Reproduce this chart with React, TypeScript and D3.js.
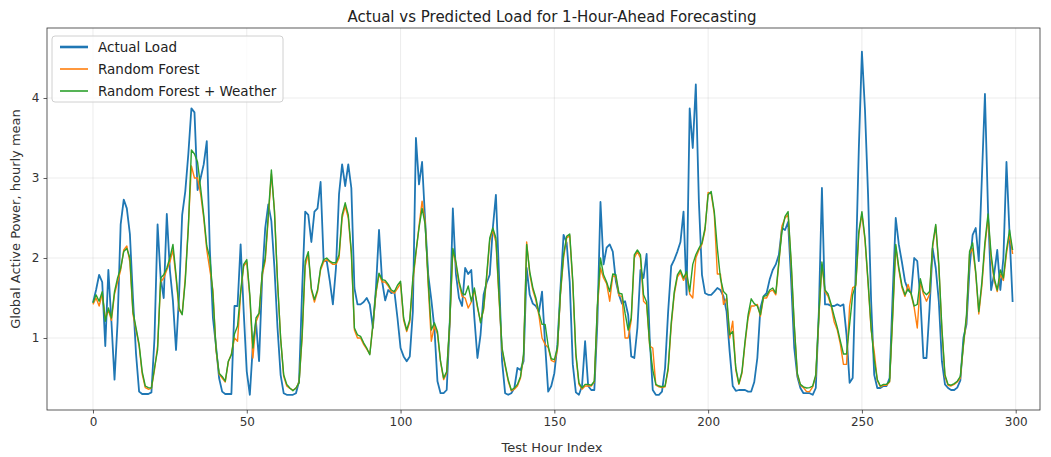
import React, { useEffect, useRef } from 'react'
import * as d3 from 'd3'

// hourly mean load, test hours 0..299
const actualLoad = [
  1.44, 1.6, 1.79, 1.7, 0.9, 1.85, 1.2, 0.48, 1.2, 2.42,
  2.73, 2.62, 2.3, 1.5, 0.8, 0.33, 0.3, 0.3, 0.3, 0.32,
  1.0, 2.42, 1.75, 1.5, 2.55, 1.85, 1.46, 0.85, 1.54, 2.54,
  2.83, 3.3, 3.87, 3.82, 2.85, 3.0, 3.17, 3.46, 2.1, 1.25,
  0.9, 0.5, 0.33, 0.3, 0.3, 0.3, 1.4, 1.4, 2.17, 1.33,
  0.58, 0.29, 0.92, 1.2, 0.71, 1.75, 2.375, 2.67, 2.46, 1.875,
  1.125, 0.54, 0.31, 0.29, 0.29, 0.29, 0.31, 0.46, 1.6, 2.58,
  2.54, 2.2, 2.58, 2.62, 2.95, 1.96, 1.96, 1.71, 1.42, 1.875,
  2.8, 3.17, 2.9, 3.17, 2.875, 1.625, 1.42, 1.42, 1.45, 1.5,
  1.42, 1.125, 1.625, 2.35, 1.71, 1.47, 1.6, 1.56, 1.58, 1.25,
  0.875, 0.77, 0.71, 0.77, 1.33, 3.5, 2.92, 3.2, 2.46, 1.79,
  1.48, 1.125, 0.46, 0.31, 0.31, 0.35, 1.2, 2.62, 1.8, 1.5,
  1.4, 1.875, 1.8, 1.85, 1.25, 0.75, 1.04, 1.54, 1.69, 1.79,
  2.375, 2.79, 1.8, 0.71, 0.31, 0.29, 0.31, 0.375, 0.625, 0.6,
  0.71, 1.875, 1.54, 1.43, 1.4, 1.33, 1.58, 0.92, 0.33, 0.4,
  0.56, 0.92, 1.625, 2.29, 2.19, 1.7, 0.67, 0.32, 0.29, 0.4,
  0.96, 0.4, 0.35, 0.35, 1.2, 2.7, 1.92, 2.13, 2.17, 2.08,
  1.71, 1.54, 1.43, 1.46, 1.29, 0.77, 0.75, 1.125, 1.85, 1.75,
  2.05, 1.0, 0.35, 0.29, 0.29, 0.33, 0.625, 1.33, 1.9, 1.98,
  2.08, 2.2, 2.58, 1.54, 3.87, 3.375, 4.17, 2.7, 1.79, 1.56,
  1.54, 1.54, 1.58, 1.625, 1.6, 1.52, 1.33, 0.83, 0.4, 0.34,
  0.35, 0.35, 0.35, 0.33, 0.33, 0.45, 0.75, 1.375, 1.52, 1.56,
  1.73, 1.85, 1.92, 2.04, 2.375, 2.35, 2.45, 1.71, 0.875, 0.52,
  0.375, 0.31, 0.31, 0.31, 0.29, 0.375, 1.33, 2.875, 1.42, 1.42,
  1.4, 1.4, 1.42, 1.4, 1.42, 1.04, 0.44, 0.5, 1.875, 3.375,
  4.58, 3.85, 2.79, 1.46, 0.54, 0.375, 0.375, 0.4, 0.4, 0.5,
  1.54, 2.5, 2.17, 1.95, 1.71, 1.6, 1.56, 2.0, 1.96, 1.5,
  0.75, 0.75, 1.375, 2.12, 1.875, 1.46, 0.71, 0.42, 0.375, 0.35,
  0.35, 0.38, 0.47, 1.0, 1.17, 1.875, 2.29, 2.375, 1.96, 3.0,
  4.05, 2.6, 1.6, 1.8, 2.1, 1.6, 2.0, 3.2, 2.3, 1.45
]

const randomForest = [
  1.42, 1.5, 1.4, 1.55, 1.25, 1.35, 1.22, 1.55, 1.7, 1.85,
  2.1, 2.15, 1.95, 1.3, 1.1, 0.9, 0.55, 0.38, 0.36, 0.37,
  0.6, 0.9, 1.7, 1.75, 1.85, 1.95, 2.1, 1.75, 1.35, 1.3,
  1.75, 2.4, 3.15, 3.0, 3.0, 2.8, 2.5, 2.1, 1.85, 1.6,
  0.85, 0.55, 0.5, 0.45, 0.7, 0.8, 1.0, 0.96, 1.55, 1.9,
  1.95, 1.5, 0.75, 1.2, 1.3, 1.78, 1.96, 2.5, 3.05, 2.6,
  1.7, 1.0, 0.52, 0.4, 0.37, 0.35, 0.37, 0.45, 1.0, 1.9,
  2.05, 1.6, 1.45, 1.58, 1.85, 1.95, 1.98, 1.95, 1.92, 1.92,
  2.0, 2.5, 2.65, 2.5, 2.05, 1.1, 1.0, 1.0, 0.92, 0.86,
  0.8, 1.15, 1.55, 1.8, 1.7, 1.7, 1.65, 1.58, 1.56, 1.62,
  1.68, 1.22, 1.08, 1.2, 1.7, 2.05, 2.4, 2.71, 2.45, 1.65,
  0.96, 1.15, 1.05, 0.7, 0.48, 0.56, 1.18, 2.1, 1.92, 1.68,
  1.52, 1.5, 1.375, 1.45, 1.6, 1.38, 1.21, 1.35, 1.75, 2.22,
  2.35, 2.2, 1.5, 0.85, 0.65, 0.46, 0.34, 0.36, 0.4, 0.5,
  0.78, 2.2, 1.8, 1.6, 1.47, 1.28, 1.0, 0.92, 0.88, 0.72,
  0.7, 0.85, 1.55, 2.0, 2.25, 2.28, 1.68, 0.78, 0.42, 0.36,
  0.4, 0.4, 0.4, 0.45, 1.38, 1.875, 1.75, 1.68, 1.46, 1.78,
  1.76, 1.53, 1.52, 1.0, 1.0, 1.22, 2.0, 2.08, 2.0, 1.46,
  1.42, 0.9, 0.875, 0.41, 0.39, 0.38, 0.39, 0.6, 1.15, 1.55,
  1.76, 1.82, 1.72, 1.8, 1.55, 1.5, 2.0, 2.1, 2.17, 2.35,
  2.82, 2.8, 2.55, 1.8, 1.8, 1.42, 1.5, 1.0, 1.21, 0.6,
  0.42, 0.56, 0.93, 1.25, 1.4, 1.4, 1.42, 1.27, 1.5, 1.5,
  1.58, 1.6, 1.54, 1.93, 2.4, 2.5, 2.54, 1.92, 1.15, 0.54,
  0.41, 0.38, 0.33, 0.33, 0.39, 0.52, 1.25, 1.92, 1.58, 1.52,
  1.4, 1.2, 1.1, 0.92, 0.67, 0.67, 1.4, 1.63, 1.65, 2.3,
  2.55, 2.22, 1.68, 1.1, 0.83, 0.47, 0.39, 0.41, 0.41, 0.45,
  1.25, 2.14, 1.85, 1.63, 1.52, 1.67, 1.54, 1.38, 1.125, 1.7,
  1.55, 1.46, 1.55, 2.14, 2.4, 1.9, 1.1, 0.52, 0.41, 0.4,
  0.42, 0.45, 0.5, 0.9, 1.25, 2.05, 2.12, 1.8, 1.3, 1.65,
  2.15, 2.5, 2.0, 1.72, 1.58, 1.8, 1.72, 2.05, 2.3, 2.05
]

const randomForestWeather = [
  1.44, 1.54, 1.46, 1.58, 1.21, 1.375, 1.25, 1.58, 1.75, 1.875,
  2.08, 2.12, 2.0, 1.33, 1.125, 0.92, 0.58, 0.4, 0.38, 0.375,
  0.625, 0.85, 1.75, 1.79, 1.875, 2.0, 2.17, 1.79, 1.375, 1.29,
  1.71, 2.375, 3.35, 3.3, 3.2, 2.875, 2.54, 2.15, 2.0, 1.54,
  0.875, 0.56, 0.52, 0.46, 0.71, 0.79, 1.05, 1.15, 1.58, 1.92,
  1.98, 1.54, 0.875, 1.25, 1.31, 1.81, 2.0, 2.54, 3.1, 2.58,
  1.71, 1.0, 0.54, 0.42, 0.375, 0.34, 0.375, 0.44, 1.04, 1.96,
  2.08, 1.62, 1.48, 1.6, 1.875, 1.98, 2.0, 1.96, 1.94, 1.94,
  2.04, 2.54, 2.69, 2.54, 2.08, 1.125, 1.04, 1.02, 0.94, 0.875,
  0.79, 1.17, 1.58, 1.81, 1.73, 1.72, 1.67, 1.6, 1.58, 1.66,
  1.71, 1.25, 1.1, 1.23, 1.75, 2.08, 2.375, 2.62, 2.42, 1.71,
  1.1, 1.19, 1.08, 0.71, 0.5, 0.58, 1.21, 2.12, 1.95, 1.71,
  1.56, 1.54, 1.65, 1.46, 1.625, 1.4, 1.19, 1.375, 1.79, 2.25,
  2.375, 2.25, 1.54, 0.875, 0.67, 0.48, 0.35, 0.375, 0.42, 0.52,
  0.8, 2.17, 1.83, 1.63, 1.5, 1.31, 1.17, 1.17, 0.9, 0.74,
  0.73, 0.875, 1.58, 2.04, 2.27, 2.3, 1.71, 0.81, 0.44, 0.375,
  0.42, 0.42, 0.41, 0.46, 1.42, 2.0, 1.79, 1.7, 1.58, 1.8,
  1.79, 1.56, 1.55, 1.31, 1.1, 1.25, 2.04, 2.1, 2.04, 1.54,
  1.45, 0.92, 0.6, 0.42, 0.4, 0.39, 0.4, 0.625, 1.19, 1.58,
  1.79, 1.85, 1.75, 1.83, 1.58, 1.92, 2.04, 2.12, 2.19, 2.375,
  2.79, 2.83, 2.58, 2.12, 1.75, 1.58, 1.54, 1.04, 1.08, 0.625,
  0.43, 0.58, 0.96, 1.29, 1.49, 1.43, 1.4, 1.29, 1.52, 1.53,
  1.6, 1.625, 1.56, 1.96, 2.33, 2.52, 2.58, 1.96, 1.17, 0.56,
  0.42, 0.39, 0.375, 0.38, 0.4, 0.54, 1.29, 1.95, 1.6, 1.55,
  1.42, 1.27, 1.13, 0.96, 0.8, 0.8, 1.17, 1.54, 1.67, 2.33,
  2.58, 2.25, 1.71, 1.125, 0.73, 0.48, 0.4, 0.42, 0.42, 0.46,
  1.29, 2.17, 1.88, 1.66, 1.54, 1.61, 1.56, 1.4, 1.42, 1.74,
  1.58, 1.54, 1.58, 2.17, 2.42, 1.92, 1.125, 0.54, 0.42, 0.41,
  0.43, 0.46, 0.52, 0.92, 1.29, 2.08, 2.19, 1.83, 1.33, 1.7,
  2.2, 2.55, 2.05, 1.75, 1.6, 1.85, 1.75, 2.1, 2.35, 2.1
]

const xTicks = [0, 50, 100, 150, 200, 250, 300]
const yTicks = [1, 2, 3, 4]
const seriesNames = ['Actual Load', 'Random Forest', 'Random Forest + Weather']
const seriesColors = ['#1f77b4', '#ff7f0e', '#2ca02c']

const W = 1051
const H = 457
const margin = { top: 28, right: 11, bottom: 47, left: 47 }
const font = '"DejaVu Sans", sans-serif'

export default function App() {
  const ref = useRef<SVGSVGElement>(null)

  useEffect(() => {
    const svg = d3.select(ref.current)
    svg.selectAll('*').remove()

    const x = d3.scaleLinear().domain([-14.95, 307.9]).range([margin.left, W - margin.right])
    const y = d3.scaleLinear().domain([0.1, 4.875]).range([H - margin.bottom, margin.top])

    svg.append('rect').attr('width', W).attr('height', H).attr('fill', '#fff')

    // grid
    const grid = svg.append('g')
    grid.selectAll('line.vx').data(xTicks).enter().append('line')
      .attr('x1', d => x(d)).attr('x2', d => x(d))
      .attr('y1', margin.top).attr('y2', H - margin.bottom)
      .attr('stroke', '#b0b0b0').attr('stroke-opacity', 0.3).attr('stroke-width', 0.8)
    grid.selectAll('line.hy').data(yTicks).enter().append('line')
      .attr('y1', d => y(d)).attr('y2', d => y(d))
      .attr('x1', margin.left).attr('x2', W - margin.right)
      .attr('stroke', '#b0b0b0').attr('stroke-opacity', 0.3).attr('stroke-width', 0.8)

    const clip = svg.append('clipPath').attr('id', 'plot-clip')
    clip.append('rect').attr('x', margin.left).attr('y', margin.top)
      .attr('width', W - margin.left - margin.right).attr('height', H - margin.top - margin.bottom)

    const lineGen = d3.line<number>().x((d, i) => x(i)).y(d => y(d))
    const all = [actualLoad, randomForest, randomForestWeather]
    const widths = [1.8, 1.4, 1.4]
    const g = svg.append('g').attr('clip-path', 'url(#plot-clip)')
    all.forEach((s, k) => {
      g.append('path').datum(s).attr('d', lineGen)
        .attr('fill', 'none').attr('stroke', seriesColors[k])
        .attr('stroke-width', widths[k]).attr('stroke-linejoin', 'round')
    })

    // axes
    const xAxis = svg.append('g')
      .attr('transform', 'translate(0,' + (H - margin.bottom) + ')')
      .call(d3.axisBottom(x).tickValues(xTicks).tickSize(3.5).tickPadding(3.5))
    const yAxis = svg.append('g')
      .attr('transform', 'translate(' + margin.left + ',0)')
      .call(d3.axisLeft(y).tickValues(yTicks).tickFormat(d3.format('d')).tickSize(3.5).tickPadding(4))
    ;[xAxis, yAxis].forEach(a => {
      a.select('.domain').remove()
      a.selectAll('line').attr('stroke', '#333').attr('stroke-width', 0.8)
      a.selectAll('text').attr('font-family', font).attr('font-size', 12).attr('fill', '#333')
    })

    svg.append('rect')
      .attr('x', margin.left).attr('y', margin.top)
      .attr('width', W - margin.left - margin.right).attr('height', H - margin.top - margin.bottom)
      .attr('fill', 'none').attr('stroke', '#333').attr('stroke-width', 0.8)

    const cx = 552
    svg.append('text').attr('x', cx).attr('y', 22).attr('text-anchor', 'middle')
      .attr('font-family', font).attr('font-size', 15).attr('fill', '#222')
      .text('Actual vs Predicted Load for 1-Hour-Ahead Forecasting')
    svg.append('text').attr('x', cx).attr('y', 452).attr('text-anchor', 'middle')
      .attr('font-family', font).attr('font-size', 13).attr('fill', '#333')
      .text('Test Hour Index')
    svg.append('text')
      .attr('transform', 'translate(20,' + (margin.top + H - margin.bottom) / 2 + ') rotate(-90)')
      .attr('text-anchor', 'middle')
      .attr('font-family', font).attr('font-size', 13).attr('fill', '#333')
      .text('Global Active Power, hourly mean')

    // legend
    const lg = svg.append('g').attr('transform', 'translate(52,36)')
    lg.append('rect').attr('width', 231).attr('height', 66).attr('rx', 3)
      .attr('fill', '#fff').attr('fill-opacity', 0.8).attr('stroke', '#d0d0d0')
    seriesNames.forEach((name, k) => {
      const yy = 11 + k * 22
      lg.append('line').attr('x1', 8).attr('x2', 36).attr('y1', yy).attr('y2', yy)
        .attr('stroke', seriesColors[k]).attr('stroke-width', k === 0 ? 2.6 : 1.6)
      lg.append('text').attr('x', 46).attr('y', yy + 4.5)
        .attr('font-family', font).attr('font-size', 13.5).attr('fill', '#222')
        .text(name)
    })
  }, [])

  return (
    <svg ref={ref} width={W} height={H}
      style={{ position: 'absolute', left: 0, top: 0, display: 'block' }} />
  )
}
